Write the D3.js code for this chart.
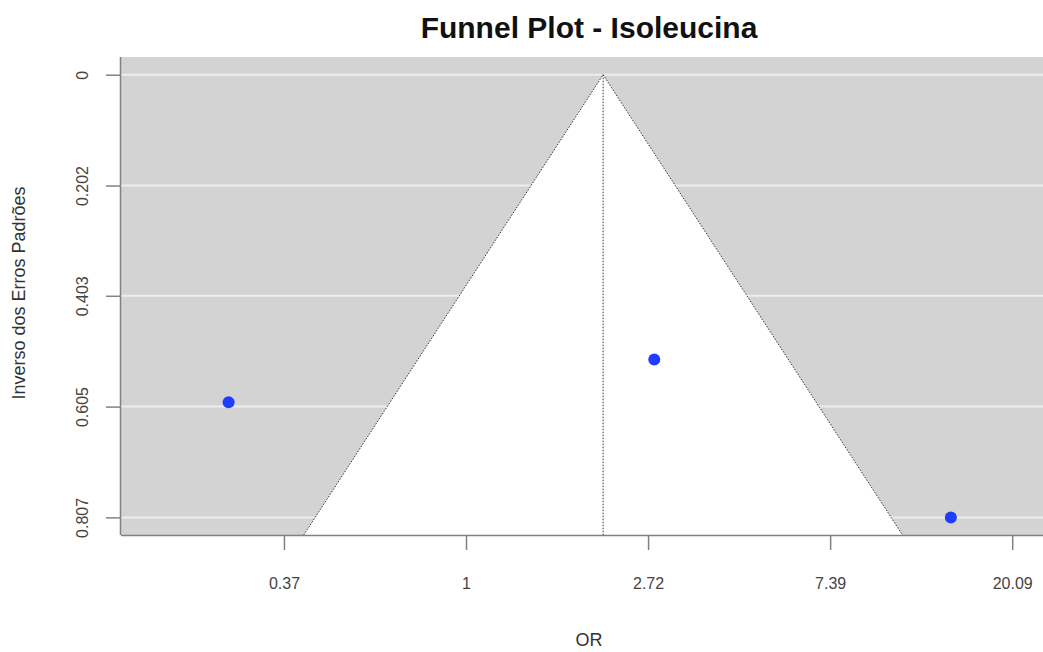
<!DOCTYPE html>
<html>
<head>
<meta charset="utf-8">
<script src="https://cdn.jsdelivr.net/npm/d3@7"></script>
<style>
  html, body { margin: 0; padding: 0; background: #fff; }
  svg { display: block; font-family: "Liberation Sans", Arial, sans-serif; }
</style>
</head>
<body>
<svg id="chart" width="1043" height="652"></svg>
<script>
// Study estimates on the log odds-ratio scale with their standard errors
const logOR = [-1.304, 1.034, 2.663];
const stdErr = [0.597, 0.519, 0.807];
// Pooled estimate the funnel is centred on
const pooledLogOR = 0.753;

// Axis ticks
const xTicks = [-1, 0, 1, 2, 3];
const xTickLabels = ["0.37", "1", "2.72", "7.39", "20.09"];
const yTicks = [0, 0.202, 0.403, 0.605, 0.807];
const yTickLabels = ["0", "0.202", "0.403", "0.605", "0.807"];

const svg = d3.select("#chart");

const plotLeft = 121, plotRight = 1057, plotTop = 57, plotBottom = 535;

const x = d3.scaleLinear().domain([-1.895, 3.246]).range([plotLeft, plotRight]);
const y = d3.scaleLinear().domain([-0.0323, 0.8391]).range([plotTop, plotBottom]);

// grey background of the plotting region
svg.append("rect")
  .attr("x", plotLeft).attr("y", plotTop)
  .attr("width", plotRight - plotLeft).attr("height", plotBottom - plotTop)
  .attr("fill", "#d3d3d3");

// pseudo confidence region (white triangle)
const seBottom = y.domain()[1];
const funnel = [
  [pooledLogOR - 1.96 * seBottom, seBottom],
  [pooledLogOR, 0],
  [pooledLogOR + 1.96 * seBottom, seBottom]
];
svg.append("path")
  .attr("d", d3.line().x(d => x(d[0])).y(d => y(d[1]))(funnel) + "Z")
  .attr("fill", "#ffffff");

// horizontal reference lines at the y ticks
svg.append("g").selectAll("line").data(yTicks).join("line")
  .attr("x1", plotLeft).attr("x2", plotRight)
  .attr("y1", d => y(d)).attr("y2", d => y(d))
  .attr("stroke", "#ffffff").attr("stroke-opacity", 0.6).attr("stroke-width", 2);

// funnel edges
svg.append("path")
  .attr("d", d3.line().x(d => x(d[0])).y(d => y(d[1]))(funnel))
  .attr("fill", "none")
  .attr("stroke", "#333").attr("stroke-width", 1)
  .attr("stroke-dasharray", "1.5,1.5");

// vertical line at the pooled estimate
svg.append("line")
  .attr("x1", x(pooledLogOR)).attr("x2", x(pooledLogOR))
  .attr("y1", y(0)).attr("y2", y(seBottom))
  .attr("stroke", "#333").attr("stroke-width", 1)
  .attr("stroke-dasharray", "1.5,1.5");

// study points
svg.append("g").selectAll("circle").data(logOR).join("circle")
  .attr("cx", d => x(d))
  .attr("cy", (d, i) => y(stdErr[i]))
  .attr("r", 6)
  .attr("fill", "#1f3cff");

// axes
const xAxis = d3.axisBottom(x)
  .tickValues(xTicks)
  .tickFormat((d, i) => xTickLabels[i])
  .tickSize(15).tickPadding(28);
const gx = svg.append("g").attr("transform", `translate(0,${plotBottom})`).call(xAxis);
gx.select(".domain").attr("d", `M${plotLeft},0.5H${plotRight}`);

const yAxis = d3.axisLeft(y)
  .tickValues(yTicks)
  .tickFormat((d, i) => yTickLabels[i])
  .tickSize(15);
const gy = svg.append("g").attr("transform", `translate(${plotLeft},0)`).call(yAxis);
gy.select(".domain").attr("d", `M-0.5,${plotTop}V${plotBottom}`);

[gx, gy].forEach(g => {
  g.select(".domain").attr("stroke", "#808080").attr("stroke-width", 1.5);
  g.selectAll(".tick line").attr("stroke", "#808080").attr("stroke-width", 1.5);
  g.selectAll(".tick text")
    .attr("fill", "#444")
    .style("font-size", "16px")
    .style("font-family", "Liberation Sans, Arial, sans-serif");
});

// rotate y tick labels
gy.selectAll(".tick text")
  .attr("transform", "rotate(-90)")
  .attr("x", 0).attr("y", -33)
  .attr("dy", 0)
  .attr("text-anchor", "middle");

// titles
svg.append("text")
  .attr("x", (plotLeft + plotRight) / 2).attr("y", 38)
  .attr("text-anchor", "middle")
  .attr("fill", "#111")
  .style("font-size", "30px").style("font-weight", "bold")
  .text("Funnel Plot - Isoleucina");

svg.append("text")
  .attr("x", (plotLeft + plotRight) / 2).attr("y", 646)
  .attr("text-anchor", "middle")
  .attr("fill", "#333")
  .style("font-size", "18px")
  .text("OR");

svg.append("text")
  .attr("transform", `translate(25,${(plotTop + plotBottom) / 2 - 3}) rotate(-90)`)
  .attr("text-anchor", "middle")
  .attr("fill", "#333")
  .style("font-size", "18px")
  .text("Inverso dos Erros Padrões");
</script>
</body>
</html>
